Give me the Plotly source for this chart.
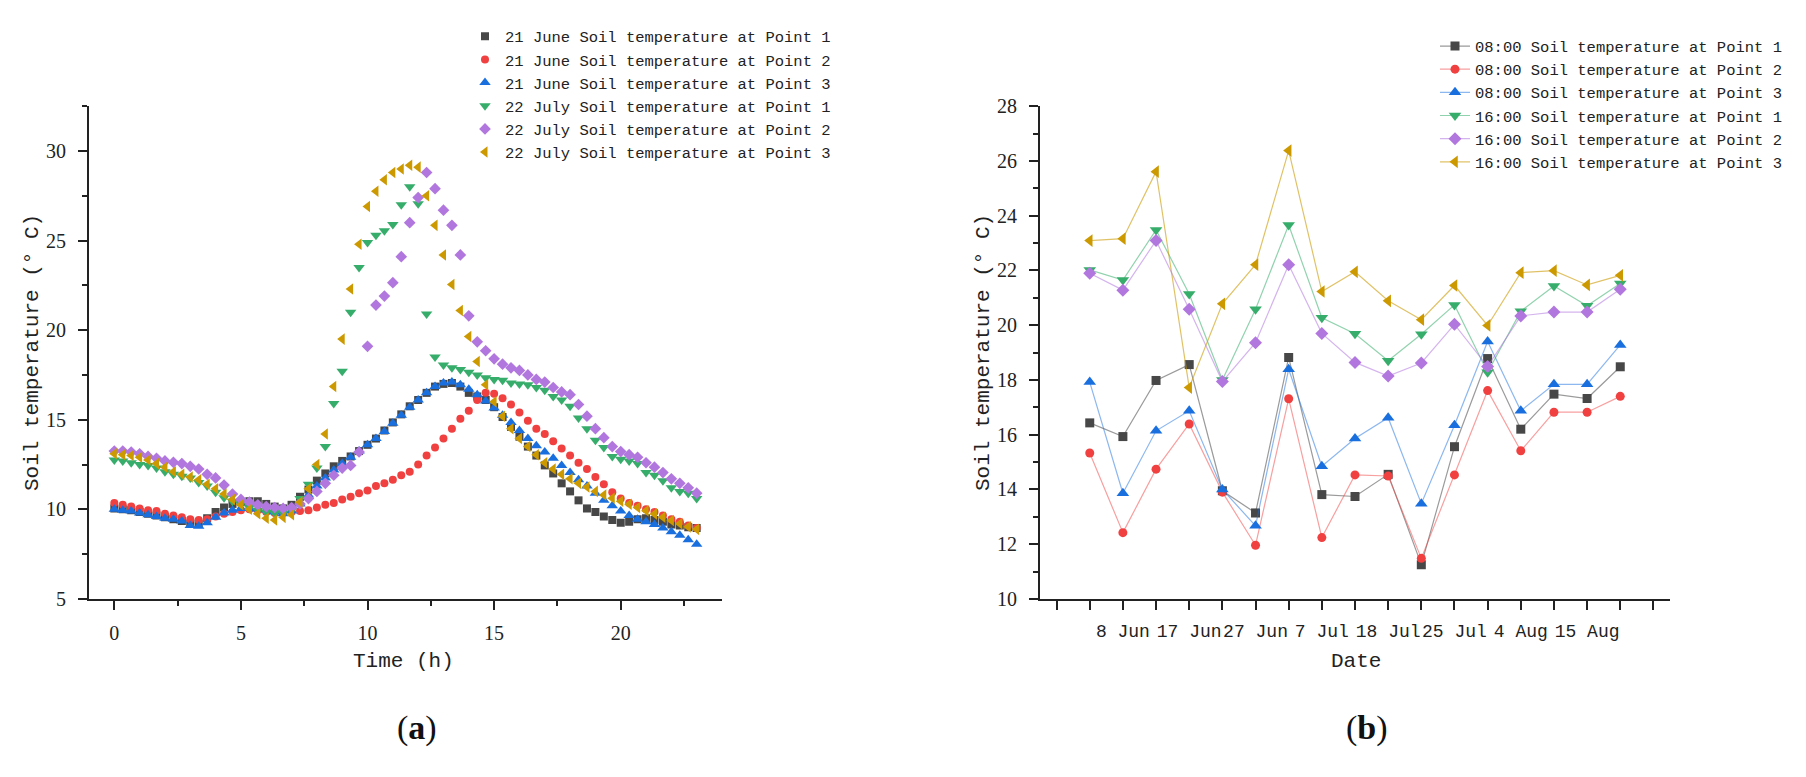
import plotly.graph_objects as go

# ---------------- data: panel (a) ----------------
# sampling every 20 minutes from 0 h to 23 h
hours = [round(i / 3, 4) for i in range(70)]

jun21_p1 = [10.05, 10.0, 9.95, 9.85, 9.75, 9.65, 9.55, 9.45, 9.35, 9.2, 9.2, 9.5,
            9.85, 10.1, 10.3, 10.4, 10.45, 10.45, 10.3, 10.15, 10.05, 10.25, 10.7, 11.1,
            11.6, 12.0, 12.4, 12.7, 12.95, 13.25, 13.6, 13.95, 14.4, 14.85, 15.3, 15.75,
            16.1, 16.5, 16.85, 17.0, 17.05, 16.85, 16.5, 16.3, 16.1, 15.7, 15.15, 14.6,
            14.05, 13.5, 13.0, 12.45, 12.0, 11.45, 11.0, 10.5, 10.05, 9.85, 9.6, 9.4,
            9.25, 9.3, 9.45, 9.5, 9.4, 9.3, 9.15, 9.1, 9.0, 8.95]
jun21_p2 = [10.35, 10.25, 10.15, 10.05, 9.95, 9.9, 9.75, 9.65, 9.55, 9.45, 9.4, 9.45,
            9.6, 9.75, 9.85, 9.95, 10.0, 9.95, 9.85, 9.8, 9.8, 9.85, 9.9, 9.95,
            10.1, 10.25, 10.35, 10.55, 10.7, 10.9, 11.05, 11.3, 11.45, 11.65, 11.9, 12.1,
            12.5, 13.0, 13.45, 13.95, 14.5, 15.05, 15.5, 16.1, 16.5, 16.45, 16.2, 15.85,
            15.4, 14.95, 14.5, 14.2, 13.8, 13.4, 13.0, 12.6, 12.25, 11.8, 11.4, 10.95,
            10.6, 10.35, 10.2, 10.0, 9.85, 9.65, 9.45, 9.3, 9.1, 8.95]
jun21_p3 = [10.0, 9.95, 9.9, 9.8, 9.7, 9.6, 9.5, 9.45, 9.35, 9.1, 9.05, 9.25,
            9.55, 9.8, 9.95, 10.05, 10.05, 10.0, 9.95, 9.85, 9.75, 9.9, 10.3, 10.8,
            11.3, 11.75, 12.2, 12.55, 12.9, 13.25, 13.6, 13.95, 14.35, 14.8, 15.25, 15.7,
            16.1, 16.5, 16.85, 17.05, 17.1, 16.95, 16.7, 16.4, 16.05, 15.65, 15.25, 14.85,
            14.4, 13.95, 13.55, 13.2, 12.85, 12.45, 12.05, 11.65, 11.3, 10.9, 10.5, 10.2,
            9.9, 9.65, 9.45, 9.3, 9.15, 8.95, 8.75, 8.55, 8.3, 8.05]
jul22_p1 = [12.75, 12.7, 12.6, 12.5, 12.45, 12.3, 12.1, 11.95, 11.85, 11.75, 11.5, 11.3,
            10.95, 10.65, 10.45, 10.3, 10.1, 9.95, 9.85, 9.8, 9.8, 9.95, 10.6, 11.4,
            12.3, 13.5, 15.9, 17.7, 21.0, 23.5, 24.9, 25.3, 25.55, 25.9, 27.0, 28.0,
            27.05, 20.9, 18.5, 18.05, 17.9, 17.8, 17.65, 17.5, 17.35, 17.25, 17.2, 17.05,
            17.0, 16.95, 16.8, 16.65, 16.3, 16.1, 15.75, 15.1, 14.5, 13.85, 13.45, 12.95,
            12.8, 12.7, 12.55, 12.05, 11.9, 11.6, 11.2, 11.0, 10.9, 10.6]
jul22_p2 = [13.25, 13.25, 13.2, 13.1, 12.95, 12.85, 12.7, 12.62, 12.55, 12.4, 12.25, 11.95,
            11.75, 11.35, 10.85, 10.55, 10.4, 10.25, 10.15, 10.1, 10.05, 10.1, 10.3, 10.6,
            11.0, 11.45, 11.9, 12.3, 12.45, 13.2, 19.1, 21.4, 21.9, 22.65, 24.1, 26.0,
            27.4, 28.8, 27.9, 26.7, 25.85, 24.2, 20.8, 19.35, 18.85, 18.4, 18.1, 17.9,
            17.75, 17.5, 17.25, 17.1, 16.8, 16.55, 16.4, 15.85, 15.2, 14.5, 14.0, 13.5,
            13.22, 13.05, 12.9, 12.6, 12.35, 12.05, 11.7, 11.45, 11.2, 10.9]
jul22_p3 = [13.1, 13.05, 13.0, 12.9, 12.75, 12.55, 12.35, 12.1, 11.95, 11.8, 11.65, 11.4,
            11.15, 10.85, 10.55, 10.25, 10.0, 9.75, 9.5, 9.4, 9.55, 9.7, 10.4, 11.15,
            12.5, 14.2, 16.85, 19.5, 22.3, 24.8, 26.9, 27.75, 28.4, 28.8, 29.0, 29.2,
            29.1, 27.5, 25.85, 24.2, 22.55, 21.1, 19.65, 18.25, 16.95, 16.0, 15.2, 14.5,
            13.95, 13.5, 13.05, 12.6, 12.25, 11.95, 11.7, 11.45, 11.25, 11.0, 10.8, 10.62,
            10.45, 10.28, 10.1, 9.92, 9.74, 9.56, 9.38, 9.2, 9.02, 8.88]

names_a = ["21 June Soil temperature at Point 1", "21 June Soil temperature at Point 2",
           "21 June Soil temperature at Point 3", "22 July Soil temperature at Point 1",
           "22 July Soil temperature at Point 2", "22 July Soil temperature at Point 3"]

# ---------------- data: panel (b) ----------------
survey_index = list(range(1, 18))
date_tick_positions = list(range(0, 19))
date_tick_labels = ["", "", "8 Jun", "", "17 Jun", "", "27 Jun", "", "7 Jul", "",
                    "18 Jul", "", "25 Jul", "", "4 Aug", "", "15 Aug", "", ""]

t08_p1 = [16.43, 15.93, 17.98, 18.56, 13.95, 13.14, 18.82, 13.81, 13.74, 14.55, 11.25, 15.56, 18.78, 16.2, 17.48, 17.32, 18.48]
t08_p2 = [15.33, 12.42, 14.74, 16.39, 13.9, 11.96, 17.31, 12.24, 14.53, 14.49, 11.48, 14.53, 17.61, 15.41, 16.82, 16.82, 17.4]
t08_p3 = [17.92, 13.86, 16.14, 16.87, 14.0, 12.67, 18.39, 14.85, 15.86, 16.62, 13.48, 16.34, 19.4, 16.87, 17.84, 17.84, 19.28]
t16_p1 = [22.02, 21.65, 23.48, 21.14, 18.0, 20.58, 23.66, 20.27, 19.69, 18.7, 19.67, 20.74, 18.28, 20.51, 21.43, 20.71, 21.52]
t16_p2 = [21.9, 21.28, 23.09, 20.58, 17.94, 19.36, 22.21, 19.7, 18.64, 18.14, 18.62, 20.03, 18.49, 20.34, 20.48, 20.48, 21.31]
t16_p3 = [23.09, 23.16, 25.61, 17.72, 20.78, 22.21, 26.38, 21.23, 21.95, 20.89, 20.2, 21.45, 19.99, 21.92, 21.99, 21.47, 21.82]

names_b = ["08:00 Soil temperature at Point 1", "08:00 Soil temperature at Point 2",
           "08:00 Soil temperature at Point 3", "16:00 Soil temperature at Point 1",
           "16:00 Soil temperature at Point 2", "16:00 Soil temperature at Point 3"]

# ---------------- styles ----------------
colors = ["#474747", "#f14040", "#1a6fdf", "#37ad6b", "#b177de", "#cc9900"]
line_colors = ["rgba(71,71,71,0.55)", "rgba(241,64,64,0.5)", "rgba(26,111,223,0.5)",
               "rgba(55,173,107,0.55)", "rgba(177,119,222,0.55)", "rgba(204,153,0,0.6)"]
symbols = ["square", "circle", "triangle-up", "triangle-down", "diamond", "triangle-left"]
sizes_a = [8, 8, 10, 10, 9, 10]
sizes_b = [9, 9, 11, 11, 10, 11]

MONO = "Liberation Mono"
SERIF = "Liberation Serif"
INK = "#222222"

fig = go.Figure()

for name, ys, col, sym, sz in zip(names_a, [jun21_p1, jun21_p2, jun21_p3, jul22_p1, jul22_p2, jul22_p3],
                                   colors, symbols, sizes_a):
    fig.add_trace(go.Scatter(x=hours, y=ys, name=name, mode="markers",
                             marker=dict(symbol=sym, size=sz, color=col, line=dict(width=0)),
                             xaxis="x", yaxis="y", legend="legend"))

for name, ys, col, lcol, sym, sz in zip(names_b, [t08_p1, t08_p2, t08_p3, t16_p1, t16_p2, t16_p3],
                                         colors, line_colors, symbols, sizes_b):
    fig.add_trace(go.Scatter(x=survey_index, y=ys, name=name, mode="lines+markers",
                             line=dict(color=lcol, width=1.2),
                             marker=dict(symbol=sym, size=sz, color=col, line=dict(width=0)),
                             xaxis="x2", yaxis="y2", legend="legend2"))

W, H = 1806, 777
ydom = [1 - 605 / H, 1 - 98 / H]

axis_common = dict(showgrid=False, zeroline=False, showline=True, linecolor=INK, linewidth=2,
                   ticks="outside", ticklen=9, tickwidth=1.5, tickcolor=INK, mirror=False)

fig.update_layout(
    width=W, height=H,
    margin=dict(l=0, r=0, t=0, b=0),
    paper_bgcolor="white", plot_bgcolor="white",
    xaxis=dict(domain=[89 / W, 722 / W], range=[-1, 24], tick0=0, dtick=5,
               tickfont=dict(family=SERIF, size=20, color=INK), ticklabelstandoff=6,
               minor=dict(dtick=2.5, tick0=0, ticks="outside", ticklen=5, tickcolor=INK, tickwidth=1.5),
               anchor="y", **axis_common),
    yaxis=dict(domain=ydom, range=[5, 32.5], tick0=5, dtick=5,
               tickfont=dict(family=SERIF, size=20, color=INK), ticklabelstandoff=8,
               minor=dict(dtick=2.5, tick0=5, ticks="outside", ticklen=5, tickcolor=INK, tickwidth=1.5),
               anchor="x", **axis_common),
    xaxis2=dict(domain=[1040 / W, 1670 / W], range=[-0.5, 18.5], tickmode="array",
                tickvals=date_tick_positions, ticktext=date_tick_labels, tickangle=0,
                tickfont=dict(family=MONO, size=18, color=INK), ticklabelstandoff=6,
                anchor="y2", **axis_common),
    yaxis2=dict(domain=ydom, range=[10, 28], tick0=10, dtick=2,
                tickfont=dict(family=SERIF, size=20, color=INK), ticklabelstandoff=8,
                minor=dict(dtick=1, tick0=10, ticks="outside", ticklen=5, tickcolor=INK, tickwidth=1.5),
                anchor="x2", **axis_common),
    legend=dict(x=465 / W, y=1 - 9 / H, xanchor="left", yanchor="top",
                bgcolor="rgba(0,0,0,0)", borderwidth=0,
                font=dict(family=MONO, size=15.5, color=INK), tracegroupgap=0),
    legend2=dict(x=1435 / W, y=1 - 19 / H, xanchor="left", yanchor="top",
                 bgcolor="rgba(0,0,0,0)", borderwidth=0,
                 font=dict(family=MONO, size=15.5, color=INK), tracegroupgap=0),
    showlegend=True,
)

annots = [
    dict(text="Soil temperature (° C)", x=32 / W, y=1 - 352 / H, textangle=-90,
         font=dict(family=MONO, size=21, color=INK)),
    dict(text="Soil temperature (° C)", x=983 / W, y=1 - 352 / H, textangle=-90,
         font=dict(family=MONO, size=21, color=INK)),
    dict(text="Time (h)", x=403 / W, y=1 - 669 / H, font=dict(family=MONO, size=21, color=INK)),
    dict(text="Date", x=1356 / W, y=1 - 669 / H, font=dict(family=MONO, size=21, color=INK)),
    dict(text="(<b>a</b>)", x=417 / W, y=1 - 738 / H, font=dict(family=SERIF, size=34, color="#111")),
    dict(text="(<b>b</b>)", x=1367 / W, y=1 - 738 / H, font=dict(family=SERIF, size=34, color="#111")),
]
for a in annots:
    fig.add_annotation(xref="paper", yref="paper", showarrow=False, xanchor="center", yanchor="middle", **a)

fig.write_html("out.html", config={"displayModeBar": False},
               post_script="document.body.style.margin='0';document.body.style.overflow='hidden';")
